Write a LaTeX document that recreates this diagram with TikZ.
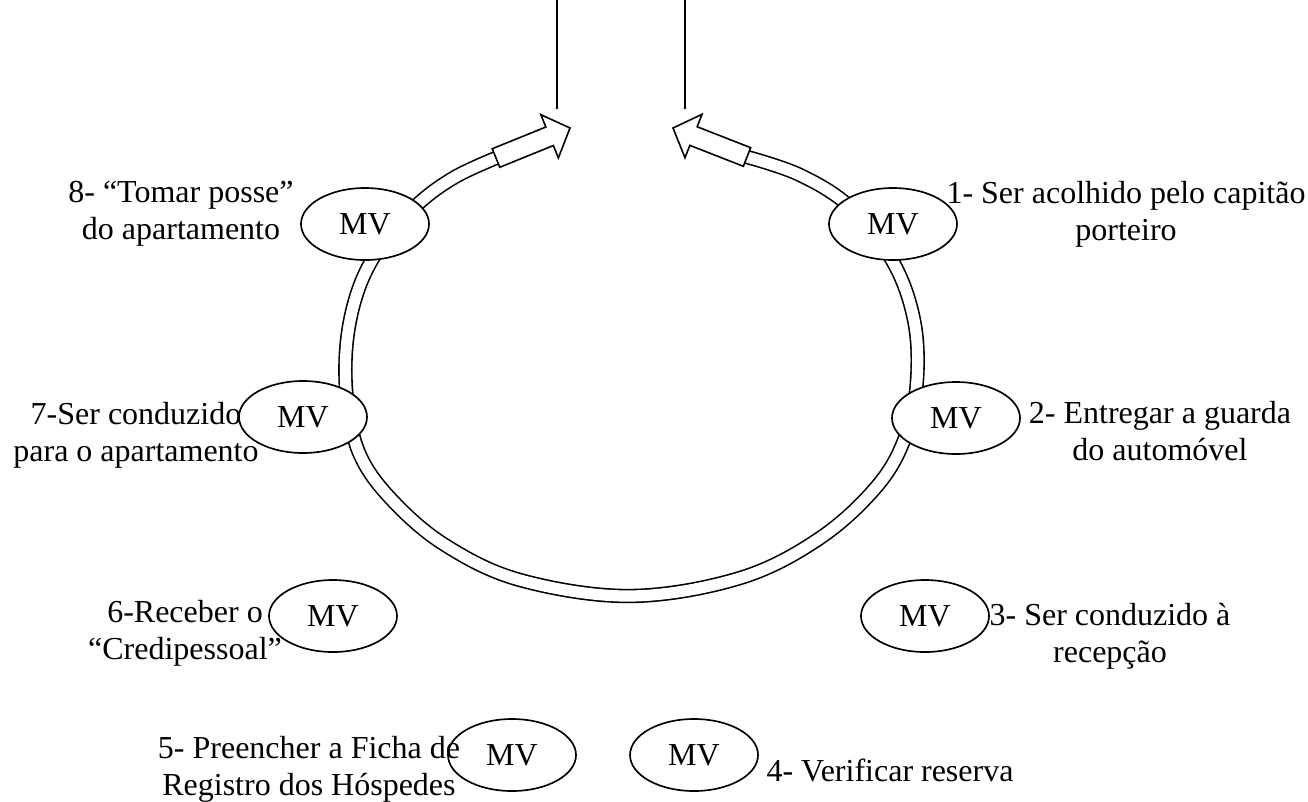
\documentclass[tikz,border=0pt]{standalone}
\usepackage{fontspec}
\setmainfont{Liberation Serif}
\usepackage{tikz}
\usetikzlibrary{calc,shapes.geometric}
\definecolor{ink}{HTML}{000000}
\definecolor{paper}{HTML}{FFFFFF}
\tikzset{
  mv/.style={ellipse, draw=ink, line width=1.25pt, fill=paper, minimum width=96pt,
    minimum height=54pt, inner sep=0pt, font=\fontsize{24}{27.6}\selectfont},
  lab/.style={align=center, inner sep=0pt, anchor=north, text=ink,
    font=\fontsize{24}{27.6}\selectfont},
  ring/.style={draw=ink, line width=1.2pt, double=paper, double distance=8.4pt},
  tipline/.style={draw=ink, line width=1.2pt, fill=paper, line join=miter},
  post/.style={draw=ink, line width=1.3pt}
}

\begin{document}
\begin{tikzpicture}[x=0.75pt, y=-0.75pt]
  \useasboundingbox (0,0) rectangle (1308,801);

  % the two posts at the top
  \coordinate (postLt) at (557,0);
  \coordinate (postLb) at (557,109);
  \coordinate (postRt) at (685,0);
  \coordinate (postRb) at (685,109);
  \draw[post] (postLt) -- (postLb);
  \draw[post] (postRt) -- (postRb);

  % ends of the ring
  \coordinate (tailL) at (496,158);
  \coordinate (tipL) at (570,128);
  \coordinate (tailR) at (747,157);
  \coordinate (tipR) at (673,128);

  \draw[ring] plot[smooth, tension=0.6] coordinates {
    (tailL) (455,177) (419,203) (385,240) (360,285) (347,340) (347,400)
    (360,455) (392,500) (445,545) (520,580) (630,596) (740,578) (820,538)
    (878,485) (906,435) (917,380) (914,320) (893,262) (850,207) (800,175)
    (tailR)};

  \foreach \tl/\tp in {tailL/tipL, tailR/tipR}{
    \coordinate (hb) at ($(\tp)!16.5pt!(\tl)$);
    \draw[tipline] ($(\tl)!7.5pt!90:(\tp)$) -- ($(hb)!7.5pt!-90:(\tl)$)
      -- ($(hb)!17.5pt!-90:(\tl)$) -- (\tp) -- ($(hb)!17.5pt!90:(\tl)$)
      -- ($(hb)!7.5pt!90:(\tl)$) -- ($(\tl)!7.5pt!-90:(\tp)$) -- cycle;
  }

  % moments
  \node[mv] (mv1) at (893,224) {MV};
  \node[mv] (mv2) at (956,418) {MV};
  \node[mv] (mv3) at (925,616) {MV};
  \node[mv] (mv4) at (694,755) {MV};
  \node[mv] (mv5) at (512,755) {MV};
  \node[mv] (mv6) at (333,616) {MV};
  \node[mv] (mv7) at (303,417) {MV};
  \node[mv] (mv8) at (365,224) {MV};

  \node[lab] (lab1) at (1126,181) {1- Ser acolhido pelo capitão\\porteiro};
  \node[lab] (lab2) at (1160,401) {2- Entregar a guarda\\do automóvel};
  \node[lab] (lab3) at (1110,603) {3- Ser conduzido à\\recepção};
  \node[lab] (lab4) at (890,759) {4- Verificar reserva};
  \node[lab] (lab5) at (309,736) {5- Preencher a Ficha de\\Registro dos Hóspedes};
  \node[lab] (lab6) at (185,600) {6-Receber o\\“Credipessoal”};
  \node[lab] (lab7) at (136,402) {7-Ser conduzido\\para o apartamento};
  \node[lab] (lab8) at (181,181) {8- “Tomar posse”\\do apartamento};
\end{tikzpicture}
\end{document}
